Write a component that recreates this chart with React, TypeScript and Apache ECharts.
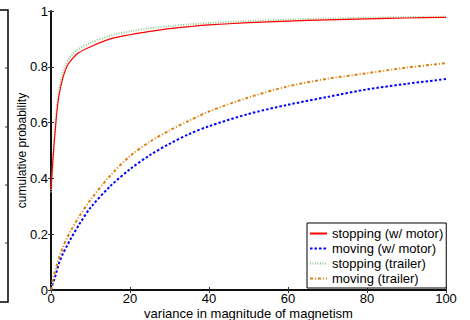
import React, { useEffect, useRef } from "react";
import * as echarts from "echarts";

const xValues = [0, 0.5, 1, 1.5, 2, 3, 4, 5, 7, 10, 15, 20, 25, 30, 35, 40, 50, 60, 70, 80, 90, 100];
const stoppingMotor = [0.36, 0.47, 0.56, 0.64, 0.695, 0.76, 0.8, 0.822, 0.85, 0.872, 0.9, 0.915, 0.927, 0.937, 0.944, 0.95, 0.958, 0.964, 0.968, 0.972, 0.975, 0.977];
const movingMotor = [0.0, 0.025, 0.045, 0.07, 0.095, 0.13, 0.157, 0.184, 0.232, 0.295, 0.372, 0.433, 0.483, 0.524, 0.559, 0.587, 0.631, 0.664, 0.692, 0.719, 0.739, 0.756];
const stoppingTrailer = [0.35, 0.46, 0.58, 0.66, 0.715, 0.78, 0.815, 0.837, 0.864, 0.886, 0.912, 0.927, 0.938, 0.946, 0.952, 0.957, 0.964, 0.969, 0.973, 0.976, 0.978, 0.98];
const movingTrailer = [0.0, 0.04, 0.065, 0.09, 0.115, 0.152, 0.185, 0.212, 0.26, 0.323, 0.41, 0.48, 0.531, 0.572, 0.607, 0.64, 0.69, 0.73, 0.757, 0.777, 0.797, 0.813];
const seriesNames = ["stopping (w/ motor)", "moving (w/ motor)", "stopping (trailer)", "moving (trailer)"];
const xTicks = [0, 20, 40, 60, 80, 100];
const yTicks = [0, 0.2, 0.4, 0.6, 0.8, 1];

const FONT = "'Liberation Sans', Arial, Helvetica, sans-serif";

function pairs(ys: number[]) {
  return xValues.map((x, i) => [x, ys[i]]);
}

export default function App() {
  const ref = useRef<HTMLDivElement>(null);
  useEffect(() => {
    if (!ref.current) return;
    const chart = echarts.init(ref.current, undefined, { renderer: "svg" });
    const axisLine = { show: true, lineStyle: { color: "#000", width: 1.5 } };
    const tick = { show: true, inside: true, length: 3, lineStyle: { color: "#333", width: 1 } };
    const xBase = { type: "value" as const, min: xTicks[0], max: xTicks[xTicks.length - 1], interval: 20, splitLine: { show: false }, axisLine, axisTick: tick };
    const yBase = { type: "value" as const, min: yTicks[0], max: yTicks[yTicks.length - 1], interval: 0.2, splitLine: { show: false }, axisLine, axisTick: tick };
    const fmt = (v: number) => (Math.abs(v) < 1e-9 ? "0" : String(Math.round(v * 10) / 10));
    const lineSeries = (i: number, ys: number[], color: string, width: number, type: any, z: number) => ({
      name: seriesNames[i],
      type: "line",
      data: pairs(ys),
      showSymbol: false,
      symbol: "none",
      smooth: 0.3,
      z,
      lineStyle: { color, width, type },
      itemStyle: { color },
    });
    chart.setOption({
      animation: false,
      backgroundColor: "#fff",
      textStyle: { fontFamily: FONT },
      grid: { left: 51, top: 11, width: 395, height: 279, containLabel: false, outerBoundsMode: "none" },
      xAxis: [
        {
          ...xBase,
          position: "bottom",
          name: "variance in magnitude of magnetism",
          nameLocation: "middle",
          nameGap: 17,
          nameMoveOverlap: false,
          nameTextStyle: { fontFamily: FONT, fontSize: 13, color: "#000", verticalAlign: "top", lineHeight: 12 },
          axisLabel: { fontFamily: FONT, fontSize: 13, color: "#000", margin: 2, lineHeight: 13, formatter: fmt },
        },
        { ...xBase, position: "top", axisLabel: { show: false } },
      ],
      yAxis: [
        {
          ...yBase,
          position: "left",
          name: "cumulative probability",
          nameLocation: "middle",
          nameGap: 23,
          nameMoveOverlap: false,
          nameTextStyle: { fontFamily: FONT, fontSize: 12, color: "#000" },
          axisLabel: { fontFamily: FONT, fontSize: 13, color: "#000", margin: 3, formatter: fmt },
        },
        { ...yBase, position: "right", axisLabel: { show: false } },
      ],
      legend: {
        orient: "vertical",
        left: 307,
        top: 223,
        padding: [3, 3, 2, 2],
        itemGap: 0,
        itemWidth: 17,
        itemHeight: 10,
        borderColor: "#000",
        borderWidth: 1,
        backgroundColor: "#fff",
        itemStyle: { opacity: 0 },
        textStyle: { fontFamily: FONT, fontSize: 13, color: "#000", lineHeight: 15 },
        data: seriesNames,
      },
      graphic: [
        { type: "polyline", shape: { points: [[0, 10], [8, 10], [8, 302], [0, 302]] }, style: { stroke: "#000", lineWidth: 1.5, fill: null } },
        { type: "line", shape: { x1: 5, y1: 68, x2: 8, y2: 68 }, style: { stroke: "#333", lineWidth: 1 } },
        { type: "line", shape: { x1: 5, y1: 127, x2: 8, y2: 127 }, style: { stroke: "#333", lineWidth: 1 } },
        { type: "line", shape: { x1: 5, y1: 185, x2: 8, y2: 185 }, style: { stroke: "#333", lineWidth: 1 } },
        { type: "line", shape: { x1: 5, y1: 243, x2: 8, y2: 243 }, style: { stroke: "#333", lineWidth: 1 } },
      ],
      series: [
        lineSeries(0, stoppingMotor, "#ff0000", 1.2, "solid", 4),
        lineSeries(1, movingMotor, "#0000ff", 2, [2.5, 2], 3),
        lineSeries(2, stoppingTrailer, "#8fcc8f", 2, [1, 1.5], 2),
        lineSeries(3, movingTrailer, "#e08010", 2, [3, 2, 1, 2], 3),
      ],
    });
    return () => chart.dispose();
  }, []);
  return <div ref={ref} style={{ position: "fixed", left: 0, top: 0, width: 470, height: 320 }} />;
}
